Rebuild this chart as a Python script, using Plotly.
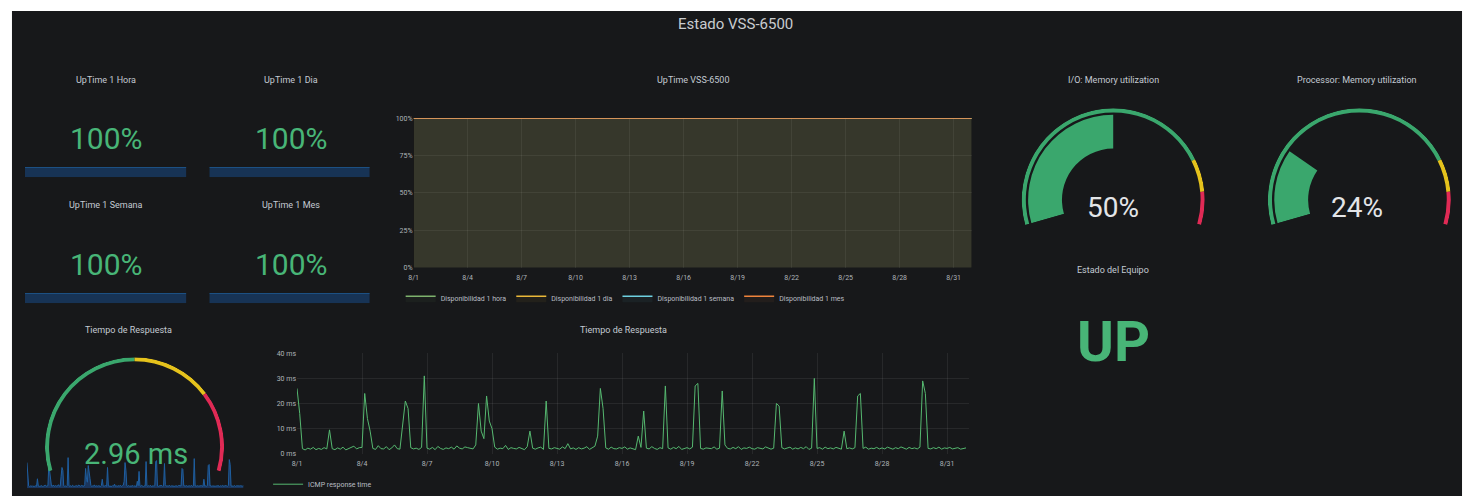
import plotly.graph_objects as go
import pandas as pd

W, H = 1469, 500

# ---------------- data ----------------
dashboard_title = "Estado VSS-6500"

uptime_days = pd.date_range("2019-08-01", "2019-09-01", freq="D")
uptime_names = ["Disponibilidad 1 hora", "Disponibilidad 1 dia",
                "Disponibilidad 1 semana", "Disponibilidad 1 mes"]
uptime_hora = [100.0] * len(uptime_days)
uptime_dia = [100.0] * len(uptime_days)
uptime_semana = [100.0] * len(uptime_days)
uptime_mes = [100.0] * len(uptime_days)

stat_titles = ["UpTime 1 Hora", "UpTime 1 Dia", "UpTime 1 Semana", "UpTime 1 Mes"]
stat_values = [100, 100, 100, 100]

io_mem_title = "I/O: Memory utilization"
io_mem_value = 50
proc_mem_title = "Processor: Memory utilization"
proc_mem_value = 24
mem_thresholds = [80, 90]
mem_max = 100

estado_title = "Estado del Equipo"
estado_value = "UP"

resp_title = "Tiempo de Respuesta"
resp_value = 2.96
resp_thresholds = [50, 75]
resp_max = 100

icmp_name = "ICMP response time"
# response time (ms), one reading every 3 hours from 8/1 00:00
icmp_ms = [
    26, 16, 2.0, 1.5, 2.2, 1.8, 2.5, 1.6,     # 8/1
    2.1, 1.7, 2.4, 1.9, 9.5, 2.0, 1.6, 2.3,   # 8/2
    1.8, 2.6, 1.5, 2.0, 2.2, 3.0, 1.9, 2.4,   # 8/3
    2.5, 24, 14, 9.0, 2.1, 1.7, 3.2, 2.0,     # 8/4
    1.9, 2.8, 1.6, 2.3, 3.5, 2.0, 1.8, 12,    # 8/5
    21, 18, 2.4, 1.9, 2.2, 1.7, 2.5, 31,      # 8/6
    2.2, 1.8, 2.5, 1.6, 2.9, 2.1, 1.7, 2.3,   # 8/7
    2.0, 2.6, 1.8, 3.1, 2.2, 1.9, 2.7, 2.4,   # 8/8
    2.3, 1.9, 3.5, 20, 9.0, 6.0, 23, 13,      # 8/9
    10, 2.6, 1.8, 2.2, 2.0, 3.3, 1.7, 2.4,    # 8/10
    2.1, 1.9, 2.5, 2.0, 1.6, 2.8, 9.0, 2.2,   # 8/11
    1.8, 2.3, 2.6, 1.7, 21, 2.1, 1.9, 2.4,    # 8/12
    2.2, 1.8, 2.7, 2.0, 4.0, 1.9, 2.3, 1.7,   # 8/13
    2.4, 1.9, 2.2, 2.8, 1.7, 2.5, 3.0, 7.0,   # 8/14
    26, 18, 2.3, 1.8, 2.6, 2.0, 1.9, 2.4,     # 8/15
    2.1, 2.7, 1.8, 2.3, 2.0, 1.6, 7.0, 2.5,   # 8/16
    17, 2.2, 1.9, 2.8, 2.1, 1.7, 2.4, 2.0,    # 8/17
    27, 2.3, 1.8, 2.5, 2.0, 2.9, 1.7, 2.2,    # 8/18
    2.4, 1.9, 2.6, 27, 28, 2.1, 1.8, 2.3,     # 8/19
    2.3, 2.0, 2.7, 1.8, 2.2, 25, 3.5, 2.1,    # 8/20
    1.9, 2.5, 2.0, 2.8, 1.7, 2.3, 2.1, 2.6,   # 8/21
    2.0, 1.8, 2.4, 2.2, 1.9, 2.7, 2.3, 1.8,   # 8/22
    2.2, 20, 19, 2.4, 1.9, 2.1, 2.6, 1.8,     # 8/23
    2.3, 1.9, 2.5, 2.0, 2.8, 1.7, 2.2, 30,    # 8/24
    2.1, 2.4, 1.8, 2.6, 2.0, 2.3, 1.9, 2.5,   # 8/25
    2.2, 1.8, 9.0, 2.0, 2.3, 1.9, 2.4, 23,    # 8/26
    24, 2.1, 2.6, 1.8, 2.2, 2.0, 2.5, 1.9,    # 8/27
    2.3, 1.9, 2.6, 2.1, 1.8, 2.4, 2.0, 2.7,   # 8/28
    2.2, 1.8, 2.5, 2.0, 2.3, 1.9, 2.6, 29,    # 8/29
    24, 2.1, 1.9, 2.4, 2.0, 2.6, 1.8, 2.3,    # 8/30
    2.1, 2.5, 1.9, 2.2, 2.4, 1.8, 2.0, 2.3,   # 8/31
]
icmp_time = pd.date_range("2019-08-01", periods=len(icmp_ms), freq="3h")

# ---------------- style ----------------
BG = "#17181a"
TITLE_C = "#c3cad2"
TICK_C = "#aeb3b8"
VAL_GREEN = "#48b577"
G_GREEN = "#3aa76d"
G_YELLOW = "#e5c21c"
G_RED = "#e02a55"
FONT = "Roboto"
month_range = ["2019-08-01", "2019-09-01"]


def xd(a, b):
    return [a / W, b / W]


def yd(top, bottom):
    return [(H - bottom) / H, (H - top) / H]


fig = go.Figure()

# ---- UpTime VSS-6500 graph ----
up_colors = ["#7eb26d", "#eab839", "#6ed0e0", "#ef843c"]
for name, ser, col in zip(uptime_names, [uptime_hora, uptime_dia, uptime_semana, uptime_mes], up_colors):
    r, g, b = int(col[1:3], 16), int(col[3:5], 16), int(col[5:7], 16)
    fig.add_trace(go.Scatter(
        x=uptime_days, y=ser, name=name, mode="lines",
        line=dict(color=col, width=1.5), fill="tozeroy",
        fillcolor=f"rgba({r},{g},{b},0.06)",
        xaxis="x", yaxis="y", legend="legend"))

# ---- Tiempo de Respuesta graph ----
fig.add_trace(go.Scatter(
    x=icmp_time, y=icmp_ms, name=icmp_name, mode="lines",
    line=dict(color="#56b870", width=1), xaxis="x2", yaxis="y2", legend="legend2"))

# ---- stat sparklines ----
stat_series = [uptime_hora, uptime_dia, uptime_semana, uptime_mes]
for i, ser in enumerate(stat_series):
    ax = i + 3
    fig.add_trace(go.Scatter(
        x=uptime_days, y=ser, mode="lines", showlegend=False,
        line=dict(color="#1f5f9c", width=1.5), fill="tozeroy",
        fillcolor="rgba(24,70,125,0.6)",
        xaxis=f"x{ax}", yaxis=f"y{ax}"))

# ---- gauge sparkline ----
fig.add_trace(go.Scatter(
    x=icmp_time, y=icmp_ms, mode="lines", showlegend=False,
    line=dict(color="#1f5fa0", width=1), fill="tozeroy",
    fillcolor="rgba(31,80,150,0.55)", xaxis="x7", yaxis="y7"))

# ---- gauges (barpolar) ----
SPAN = 212.0
START = 196.0
SIN16 = 0.2756


def add_gauge(pname, cx, cy, R, value, vmax, thresholds, band):
    k = SPAN / vmax
    edges = [0] + list(thresholds) + [vmax]
    cols = [G_GREEN, G_YELLOW, G_RED]
    thetas = [(edges[i] + edges[i + 1]) / 2 * k for i in range(3)]
    widths = [(edges[i + 1] - edges[i]) * k for i in range(3)]
    fig.add_trace(go.Barpolar(
        r=[0.045] * 3, base=[0.955] * 3, theta=thetas, width=widths,
        marker=dict(color=cols, line=dict(width=0)), subplot=pname,
        showlegend=False, hoverinfo="skip"))
    if band:
        fig.add_trace(go.Barpolar(
            r=[0.37], base=[0.56], theta=[value / 2 * k], width=[value * k],
            marker=dict(color=G_GREEN, line=dict(width=0)), subplot=pname,
            showlegend=False, hoverinfo="skip"))
    polar = dict(
        domain=dict(x=xd(cx - R, cx + R), y=yd(cy - R, cy + SIN16 * R)),
        sector=[-16, 196], hole=0, bgcolor="rgba(0,0,0,0)",
        angularaxis=dict(rotation=START, direction="clockwise", visible=False),
        radialaxis=dict(range=[0, 1], visible=False),
        barmode="overlay")
    return polar


polar1 = add_gauge("polar", 1112, 199, 93, io_mem_value, mem_max, mem_thresholds, True)
polar2 = add_gauge("polar2", 1359, 199, 93, proc_mem_value, mem_max, mem_thresholds, True)
polar3 = add_gauge("polar3", 130, 450, 91, resp_value, resp_max, resp_thresholds, False)

# ---------------- layout ----------------
tickfont = dict(family=FONT, size=7, color=TICK_C)
grid = "rgba(255,255,255,0.07)"

layout = dict(
    width=W, height=H, autosize=False,
    margin=dict(l=0, r=0, t=0, b=0),
    paper_bgcolor="white", plot_bgcolor="rgba(0,0,0,0)",
    font=dict(family=FONT, color=TITLE_C),
    polar=polar1, polar2=polar2, polar3=polar3,
    xaxis=dict(domain=xd(410, 970), anchor="y", type="date", range=month_range,
               tick0="2019-08-01", dtick=3 * 86400000, tickformat="%-m/%-d",
               tickfont=tickfont, gridcolor=grid, showline=False, zeroline=False,
               ticks="", ticklabelstandoff=4),
    yaxis=dict(domain=yd(116, 268), anchor="x", range=[0, 100], dtick=25,
               ticksuffix="%", tickfont=tickfont, gridcolor=grid, zeroline=False,
               ticks=""),
    xaxis2=dict(domain=xd(293, 967), anchor="y2", type="date", range=month_range,
                tick0="2019-08-01", dtick=3 * 86400000, tickformat="%-m/%-d",
                tickfont=tickfont, gridcolor=grid, zeroline=False, ticks="",
                ticklabelstandoff=4),
    yaxis2=dict(domain=yd(355, 457), anchor="x2", range=[0, 40], dtick=10,
                ticksuffix=" ms", tickfont=tickfont, gridcolor=grid, zeroline=False,
                ticks=""),
    legend=dict(orientation="h", x=397 / W, y=1 - 299 / H, xanchor="left",
                yanchor="middle", font=dict(family=FONT, size=7, color="#b9bec4"),
                bgcolor="rgba(0,0,0,0)", itemwidth=30, tracegroupgap=0),
    legend2=dict(orientation="h", x=264 / W, y=1 - 488 / H, xanchor="left",
                 yanchor="middle", font=dict(family=FONT, size=7, color="#b9bec4"),
                 bgcolor="rgba(0,0,0,0)", itemwidth=30),
)

stat_boxes = [(20, 182, 166, 176), (205, 366, 166, 176),
              (20, 182, 294, 304), (205, 366, 294, 304)]
for i, (x0, x1, t, b) in enumerate(stat_boxes):
    ax = i + 3
    layout[f"xaxis{ax}"] = dict(domain=xd(x0, x1), anchor=f"y{ax}", visible=False,
                                range=month_range, type="date")
    layout[f"yaxis{ax}"] = dict(domain=yd(t, b), anchor=f"x{ax}", visible=False,
                                range=[0, 100])
layout["xaxis7"] = dict(domain=xd(22, 240), anchor="y7", visible=False,
                        range=month_range, type="date")
layout["yaxis7"] = dict(domain=yd(460, 492), anchor="x7", visible=False, range=[0, 32])

fig.update_layout(**layout)

# background panel (white scan border around)
fig.add_shape(type="rect", xref="paper", yref="paper", x0=7 / W, x1=1462 / W,
              y0=0, y1=1 - 7 / H, fillcolor=BG, line=dict(width=0), layer="below")


def text(s, px, py, size, color=TITLE_C, weight="normal"):
    fig.add_annotation(x=px / W, y=1 - py / H, xref="paper", yref="paper", text=s,
                       showarrow=False, xanchor="center", yanchor="middle",
                       font=dict(family=FONT, size=size, color=color, weight=weight))


text(dashboard_title, 733, 20, 15, "#c9cccf")
title_pos = [(101, 77), (287, 77), (101, 204), (287, 204)]
value_pos = [(102, 137), (287, 137), (102, 265), (287, 265)]
for t, v, tp, vp in zip(stat_titles, stat_values, title_pos, value_pos):
    text(t, tp[0], tp[1], 9)
    text(f"{v}%", vp[0], vp[1], 30, VAL_GREEN)

text("UpTime VSS-6500", 690, 77, 9)
text(io_mem_title, 1112, 77, 9)
text(proc_mem_title, 1357, 77, 9)
text(f"{io_mem_value}%", 1112, 207, 28, "#e3e5e8")
text(f"{proc_mem_value}%", 1357, 207, 28, "#e3e5e8")
text(estado_title, 1112, 270, 9)
text(estado_value, 1112, 343, 56, VAL_GREEN, weight="bold")
text(resp_title, 124, 331, 9)
text(resp_title, 621, 331, 9)
text(f"{resp_value} ms", 131, 457, 29, VAL_GREEN)

fig.write_html(
    "out.html",
    config={"displayModeBar": False},
    post_script="document.body.style.margin='0';document.body.style.overflow='hidden';",
)
